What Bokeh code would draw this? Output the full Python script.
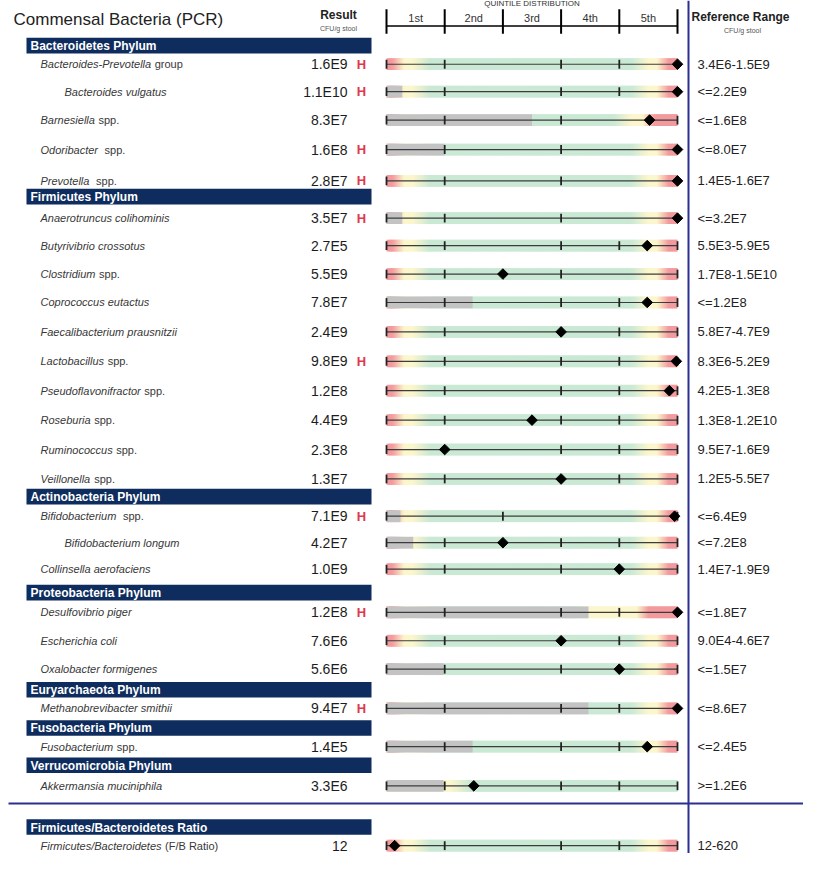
import numpy as np
from bokeh.plotting import figure
from bokeh.models import Range1d
from bokeh.core.properties import value
from bokeh.embed import file_html
from bokeh.resources import INLINE

# ---------------- data ----------------
phyla = ["Bacteroidetes Phylum", "Firmicutes Phylum", "Actinobacteria Phylum",
         "Proteobacteria Phylum", "Euryarchaeota Phylum", "Fusobacteria Phylum",
         "Verrucomicrobia Phylum", "Firmicutes/Bacteroidetes Ratio"]

taxon_italic = ["Bacteroides-Prevotella", "Bacteroides vulgatus", "Barnesiella", "Odoribacter",
                "Prevotella", "Anaerotruncus colihominis", "Butyrivibrio crossotus", "Clostridium",
                "Coprococcus eutactus", "Faecalibacterium prausnitzii", "Lactobacillus",
                "Pseudoflavonifractor", "Roseburia", "Ruminococcus", "Veillonella",
                "Bifidobacterium", "Bifidobacterium longum", "Collinsella aerofaciens",
                "Desulfovibrio piger", "Escherichia coli", "Oxalobacter formigenes",
                "Methanobrevibacter smithii", "Fusobacterium", "Akkermansia muciniphila",
                "Firmicutes/Bacteroidetes"]
taxon_suffix = [" group", "", " spp.", "  spp.", "  spp.", "", "", " spp.", "", "", " spp.",
                " spp.", " spp.", " spp.", " spp.", "  spp.", "", "", "", "", "", "", " spp.",
                "", " (F/B Ratio)"]
taxon_level = [1, 2, 1, 1, 1, 1, 1, 1, 1, 1, 1, 1, 1, 1, 1, 1, 2, 1, 1, 1, 1, 1, 1, 1, 1]

results = ["1.6E9", "1.1E10", "8.3E7", "1.6E8", "2.8E7", "3.5E7", "2.7E5", "5.5E9", "7.8E7",
           "2.4E9", "9.8E9", "1.2E8", "4.4E9", "2.3E8", "1.3E7", "7.1E9", "4.2E7", "1.0E9",
           "1.2E8", "7.6E6", "5.6E6", "9.4E7", "1.4E5", "3.3E6", "12"]
flags = ["H", "H", "", "H", "H", "H", "", "", "", "", "H", "", "", "", "", "H", "", "",
         "H", "", "", "H", "", "", ""]
ref_ranges = ["3.4E6-1.5E9", "<=2.2E9", "<=1.6E8", "<=8.0E7", "1.4E5-1.6E7", "<=3.2E7",
              "5.5E3-5.9E5", "1.7E8-1.5E10", "<=1.2E8", "5.8E7-4.7E9", "8.3E6-5.2E9",
              "4.2E5-1.3E8", "1.3E8-1.2E10", "9.5E7-1.6E9", "1.2E5-5.5E7", "<=6.4E9",
              "<=7.2E8", "1.4E7-1.9E9", "<=1.8E7", "9.0E4-4.6E7", "<=1.5E7", "<=8.6E7",
              "<=2.4E5", ">=1.2E6", "12-620"]
# position of the result on the quintile scale (0..5)
quintile_pos = [5.0, 5.0, 4.52, 5.0, 5.0, 5.0, 4.48, 2.0, 4.48, 3.0, 4.98, 4.86, 2.5, 1.0,
                3.0, 4.95, 2.0, 4.0, 5.0, 3.0, 4.0, 5.0, 4.48, 1.5, 0.14]
# grey part of the bar (below detection), quintile units
below_dl = [0, 0.27, 2.5, 1.0, 0, 0.27, 0, 0, 1.48, 0, 0, 0, 0, 0, 0, 0.24, 0.46, 0,
            3.47, 0, 0.98, 3.47, 1.48, 0.98, 0]
# colour zones of the distribution bar, quintile units
green_from = [0.75] * 23 + [1.45, 0.75]
green_to = [4.2, 4.2, 3.9] + [4.2] * 15 + [3.2, 4.2, 4.2, 4.2, 4.2, 5.0, 4.2]
red_from = [4.85, 4.85, 4.6] + [4.85] * 15 + [4.5, 4.85, 4.85, 4.85, 4.85, None, 4.85]
red_low = [True] * 23 + [False, True]
inner_ticks = [[1, 3, 4], [1, 3, 4], [1, 3], [1, 3], [1, 3], [1, 3], [1, 3, 4], [1, 3],
               [1, 3, 4], [1, 3, 4], [1, 3, 4], [1, 3, 4], [1, 3, 4], [3, 4], [1, 4], [2],
               [1, 3, 4], [1, 3], [1, 3, 4], [1, 4], [1, 3], [1, 3, 4], [1, 3, 4], [1, 3, 4],
               [1, 3, 4]]
quintile_labels = ["1st", "2nd", "3rd", "4th", "5th"]

# ---------------- layout ----------------
ROW_Y = [61, 89, 118, 148, 180, 218, 246, 275, 304, 334, 364, 394, 424, 454, 484,
         522, 549, 576, 620, 649, 678, 718, 757, 797, 858]
HEAD_Y = [42, 196, 502, 600, 699, 738, 776, 839]
Q0, QW = 386.0, 58.2       # pixel of quintile 0 and width of a quintile
BAR_H = 12
W, H = 803, 853
FONT = value("Liberation Sans")

AW = {' ': 278, '!': 278, '(': 333, ')': 333, '-': 333, '.': 278, '/': 278}
AW.update({c: 556 for c in "0123456789"})
AW.update(dict(zip("ABCDEFGHIJKLMNOPQRSTUVWXYZ",
                   [667, 667, 722, 722, 667, 611, 778, 722, 278, 500, 667, 556, 833, 722, 778,
                    667, 778, 722, 667, 611, 722, 667, 944, 667, 667, 611])))
AW.update(dict(zip("abcdefghijklmnopqrstuvwxyz",
                   [556, 556, 500, 556, 556, 278, 556, 556, 222, 222, 500, 222, 833, 556, 556,
                    556, 556, 333, 500, 278, 556, 500, 722, 500, 500, 500])))


def text_w(s, size):
    return sum(AW.get(c, 556) for c in s) / 1000.0 * size


p = figure(width=W, height=H, x_range=Range1d(0, W), y_range=Range1d(866, -4),
           output_backend="svg", toolbar_location=None, min_border=0,
           x_axis_location=None, y_axis_location=None, outline_line_color=None)
p.grid.grid_line_color = None
p.background_fill_color = "white"
p.border_fill_color = "white"
p.extra_x_ranges = {"q": Range1d((0 - Q0) / QW, (W - Q0) / QW)}

RED = (243, 154, 158)
YEL = (252, 246, 204)
GRN = (202, 233, 213)


def stops_for(i):
    s = []
    if red_low[i]:
        s += [(0.0, RED), (0.1, RED), (0.3, YEL), (green_from[i] - 0.3, YEL)]
    else:
        s += [(0.0, YEL), (green_from[i] - 0.35, YEL)]
    s += [(green_from[i], GRN), (green_to[i], GRN)]
    if red_from[i] is not None:
        s += [(green_to[i] + 0.3, YEL), (red_from[i] - 0.2, YEL), (red_from[i], RED), (5.0, RED)]
    else:
        s += [(5.0, GRN)]
    return s


# gradient strips (drawn left to right, each overlapping the next)
edges = np.linspace(0, 5, 146)
L, R, T, B, C = [], [], [], [], []
for i, y in enumerate(ROW_Y):
    st = stops_for(i)
    xs = [a for a, _ in st]
    mids = (edges[:-1] + edges[1:]) / 2
    cols = [np.interp(mids, xs, [c[k] for _, c in st]) for k in range(3)]
    for j in range(len(mids)):
        L.append(edges[j])
        R.append(min(edges[j + 1] + 0.03, 5.0))
        T.append(y - BAR_H / 2)
        B.append(y + BAR_H / 2)
        C.append("#%02x%02x%02x" % (int(cols[0][j]), int(cols[1][j]), int(cols[2][j])))
p.quad(left=L, right=R, top=T, bottom=B, fill_color=C, line_color=None, x_range_name="q")

# grey region
gi = [i for i in range(len(ROW_Y)) if below_dl[i] > 0]
p.quad(left=[0] * len(gi), right=[below_dl[i] for i in gi],
       top=[ROW_Y[i] - BAR_H / 2 for i in gi], bottom=[ROW_Y[i] + BAR_H / 2 for i in gi],
       fill_color="#c3c3c3", line_color=None, x_range_name="q")

# centre lines
p.segment(x0=[0] * len(ROW_Y), x1=[5] * len(ROW_Y), y0=ROW_Y, y1=ROW_Y,
          line_color="#3c3c3c", line_width=1.2, x_range_name="q")
# ticks
tx, ty = [], []
for i, y in enumerate(ROW_Y):
    for q in [0] + inner_ticks[i] + [5]:
        tx.append(q)
        ty.append(y)
p.segment(x0=tx, x1=tx, y0=[y - 4.5 for y in ty], y1=[y + 4.5 for y in ty],
          line_color="#222222", line_width=1.8, x_range_name="q")
# result markers
p.scatter(x=quintile_pos, y=ROW_Y, marker="square", angle=np.pi / 4, size=7.5,
          fill_color="black", line_color="black", x_range_name="q")

# header ruler
p.segment(x0=[0], x1=[5], y0=[22], y1=[22], line_color="black", line_width=1.5, x_range_name="q")
p.segment(x0=list(range(6)), x1=list(range(6)), y0=[5] * 6, y1=[30] * 6,
          line_color="black", line_width=2, x_range_name="q")
p.text(x=[k + 0.5 for k in range(5)], y=[14] * 5, text=quintile_labels, x_range_name="q",
       text_font=FONT, text_font_size="11px", text_color="#333333",
       text_align="center", text_baseline="middle")
p.text(x=[2.5], y=[4], text=["QUINTILE DISTRIBUTION"], x_range_name="q",
       text_font=FONT, text_font_size="8px", text_color="#333333",
       text_align="center", text_baseline="bottom")

# titles
p.text(x=[13], y=[15], text=["Commensal Bacteria (PCR)"], text_font=FONT,
       text_font_size="17px", text_color="#222222", text_align="left", text_baseline="middle")
p.text(x=[338, 740], y=[11, 13], text=["Result", "Reference Range"], text_font=FONT,
       text_font_size="12px", text_font_style="bold", text_color="#222222",
       text_align="center", text_baseline="middle")
p.text(x=[338, 742], y=[25, 27], text=["CFU/g stool", "CFU/g stool"], text_font=FONT,
       text_font_size="7px", text_color="#555555", text_align="center", text_baseline="middle")

# phylum header bars
p.quad(left=[26] * len(HEAD_Y), right=[371] * len(HEAD_Y),
       top=[y - 8 for y in HEAD_Y], bottom=[y + 8 for y in HEAD_Y],
       fill_color="#0e2c5d", line_color=None)
p.text(x=[30] * len(HEAD_Y), y=[y + 0.5 for y in HEAD_Y], text=phyla, text_font=FONT,
       text_font_size="12px", text_font_style="bold", text_color="white",
       text_align="left", text_baseline="middle")

# taxon names
name_x = [40 if lv == 1 else 64 for lv in taxon_level]
p.text(x=name_x, y=ROW_Y, text=taxon_italic, text_font=FONT, text_font_size="11px",
       text_font_style="italic", text_color="#383838", text_align="left", text_baseline="middle")
si = [i for i in range(len(ROW_Y)) if taxon_suffix[i]]
suf_x = []
for i in si:
    lead = taxon_suffix[i][:len(taxon_suffix[i]) - len(taxon_suffix[i].lstrip())]
    suf_x.append(name_x[i] + text_w(taxon_italic[i] + lead, 11) + 0.5)
p.text(x=suf_x, y=[ROW_Y[i] for i in si],
       text=[taxon_suffix[i].strip() for i in si], text_font=FONT, text_font_size="11px",
       text_color="#383838", text_align="left", text_baseline="middle")

# results and flags
p.text(x=[347] * len(ROW_Y), y=ROW_Y, text=results, text_font=FONT, text_font_size="14px",
       text_color="#1c1c1c", text_align="right", text_baseline="middle")
fi = [i for i in range(len(ROW_Y)) if flags[i]]
p.text(x=[361] * len(fi), y=[ROW_Y[i] for i in fi], text=[flags[i] for i in fi], text_font=FONT,
       text_font_size="13px", text_font_style="bold", text_color="#e0384c",
       text_align="center", text_baseline="middle")

# reference ranges
p.text(x=[697] * len(ROW_Y), y=ROW_Y, text=ref_ranges, text_font=FONT, text_font_size="13px",
       text_color="#222222", text_align="left", text_baseline="middle")

# blue separators
p.segment(x0=[688], x1=[688], y0=[-4], y1=[866], line_color="#2b2f90", line_width=2)
p.segment(x0=[8], x1=[W], y0=[815], y1=[815], line_color="#2b2f90", line_width=2)

open("out.html", "w").write(file_html(p, INLINE))
